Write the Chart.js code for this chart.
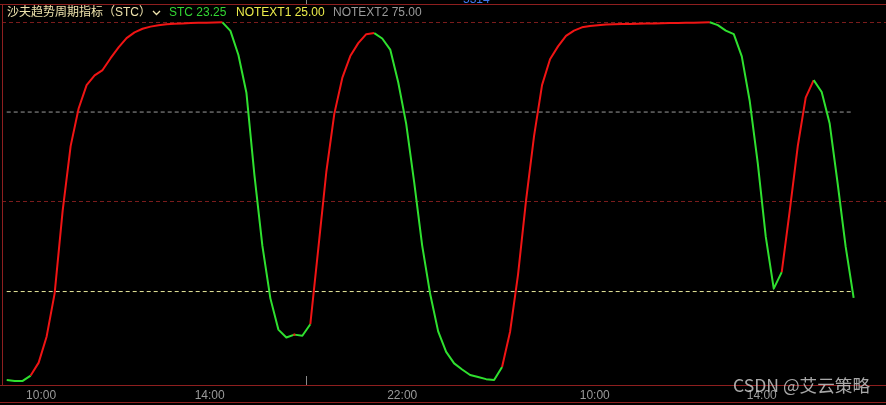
<!DOCTYPE html>
<html><head><meta charset="utf-8">
<script src="https://cdn.jsdelivr.net/npm/chart.js@4.4.0/dist/chart.umd.min.js"></script>
<style>html,body{margin:0;padding:0;background:#000;overflow:hidden}canvas{display:block}</style>
</head><body>
<canvas id="c" width="886" height="405"></canvas>
<script>
// ---- data ----
const stc = [
  0.35, 0.1, 0.1, 1.6, 5.2, 12.5, 24.5, 47.5, 65.5, 76,
  82.5, 85.2, 86.7, 90, 93, 95.6, 97.2, 98.2, 98.8, 99.2,
  99.45, 99.6, 99.7, 99.8, 99.85, 99.9, 99.95, 100, 97.6, 90.9,
  80.4, 57.5, 37.7, 23.1, 14.4, 12.2, 13.0, 12.7, 15.9, 37,
  58.3, 74.5, 84.5, 90.6, 94.2, 96.7, 97.0, 95.5, 92.4, 83.3,
  71.7, 55.4, 37.8, 24.3, 13.9, 8.2, 5.0, 3.3, 1.75, 1.2,
  0.6, 0.35, 4.0, 13.8, 29.8, 50.4, 68.3, 82.5, 89.7, 93.3,
  96.2, 97.7, 98.6, 99.0, 99.2, 99.4, 99.45, 99.5, 99.55, 99.6,
  99.65, 99.7, 99.74, 99.78, 99.82, 99.86, 99.9, 99.95, 100, 99.2,
  97.7, 96.7, 90.5, 78, 60.8, 40.3, 25.8, 30.4, 47.5, 65.4,
  79.0, 83.9, 80.6, 71.8, 55.1, 37.5, 23.25
];
const notext1 = 25;
const notext2 = 75;
const tickPositions = [4.3, 25.4, 49.5, 73.6, 94.5];
const tickLabels = ['10:00', '14:00', '22:00', '10:00', '14:00'];
const gridLevels = [50, 100];
const daySeparator = 37.5;
const titleText = '沙夫趋势周期指标（STC）';
const watermarkText = 'CSDN @艾云策略';
const topClipText = '5314';

// ---- styles ----
const RED = '#f01414';
const GREEN = '#2fe02f';
const FRAME = '#8e1f1f';
const GRIDRED = '#7a1c1c';
const FONT = "'Liberation Sans', Arial, 'Noto Sans CJK SC', sans-serif";

const rising = i => i > 0 && stc[i] > stc[i - 1];
const lastIdx = stc.length - 1;

const decor = {
  id: 'decor',
  beforeDraw(chart) {
    const c = chart.ctx;
    c.save();
    c.fillStyle = '#000';
    c.fillRect(0, 0, chart.width, chart.height);
    c.restore();
  },
  afterDraw(chart) {
    const c = chart.ctx, a = chart.chartArea, xs = chart.scales.x;
    c.save();
    // frame
    c.strokeStyle = FRAME; c.lineWidth = 1;
    c.beginPath();
    c.moveTo(0, a.top + 0.5); c.lineTo(chart.width, a.top + 0.5);
    c.moveTo(a.left + 0.5, a.top); c.lineTo(a.left + 0.5, a.bottom);
    c.moveTo(0, a.bottom + 0.5); c.lineTo(chart.width, a.bottom + 0.5);
    c.moveTo(0, chart.height - 2.5); c.lineTo(chart.width, chart.height - 2.5);
    c.stroke();
    // day separator ticks
    const sx = Math.round(xs.getPixelForValue(daySeparator)) + 0.5;
    c.strokeStyle = '#8a8a8a';
    c.beginPath();
    c.moveTo(sx, 0); c.lineTo(sx, a.top);
    c.moveTo(sx, a.bottom - 9); c.lineTo(sx, a.bottom);
    c.stroke();
    // clipped text from panel above
    c.font = '12px ' + FONT;
    c.fillStyle = '#3f78ee';
    c.textBaseline = 'alphabetic';
    c.fillText(topClipText, 463, 3);
    // legend line
    c.textBaseline = 'middle';
    const ly = 13;
    c.fillStyle = '#efe3ad';
    c.fillText(titleText, 7, ly);
    c.strokeStyle = '#efe3ad'; c.lineWidth = 1.3;
    c.beginPath(); c.moveTo(153, 11); c.lineTo(156.5, 14.5); c.lineTo(160, 11); c.stroke();
    c.fillStyle = '#33d633';
    c.fillText('STC ' + stc[lastIdx].toFixed(2), 169, ly);
    c.fillStyle = '#ecec4a';
    c.fillText('NOTEXT1 ' + notext1.toFixed(2), 236, ly);
    c.fillStyle = '#9a9a9a';
    c.fillText('NOTEXT2 ' + notext2.toFixed(2), 333, ly);
    // watermark
    c.font = "17.6px 'Noto Sans CJK SC', sans-serif";
    c.fillStyle = 'rgba(205,205,205,0.82)';
    c.textAlign = 'right';
    c.fillText(watermarkText, 870, 385);
    c.restore();
  }
};

new Chart(document.getElementById('c'), {
  type: 'line',
  data: {
    datasets: [
      {
        label: 'STC',
        data: stc.map((v, i) => ({ x: i, y: v })),
        borderWidth: 2,
        borderColor: GREEN,
        tension: 0,
        borderJoinStyle: 'round',
        pointRadius: ctx => (rising(ctx.dataIndex) && !rising(ctx.dataIndex - 1) && !rising(ctx.dataIndex + 1)) ? 1.2 : 0,
        pointBorderWidth: 0,
        pointBackgroundColor: RED,
        segment: {
          borderColor: ctx => (rising(ctx.p0DataIndex) && rising(ctx.p1DataIndex)) ? RED : GREEN
        },
        order: 0
      },
      {
        label: 'NOTEXT1',
        data: [{ x: 0, y: notext1 }, { x: lastIdx, y: notext1 }],
        borderColor: '#e8e89c', borderWidth: 1, borderDash: [4, 3], pointRadius: 0, order: 1
      },
      {
        label: 'NOTEXT2',
        data: [{ x: 0, y: notext2 }, { x: lastIdx, y: notext2 }],
        borderColor: '#9c9c9c', borderWidth: 1, borderDash: [4, 3], pointRadius: 0, order: 1
      }
    ]
  },
  options: {
    responsive: false,
    animation: false,
    devicePixelRatio: 1,
    layout: { padding: { left: 2, right: 0, top: 4, bottom: 0 } },
    plugins: { legend: { display: false }, tooltip: { enabled: false } },
    scales: {
      x: {
        type: 'linear',
        min: -0.59,
        max: 110.05,
        grid: { display: false, drawTicks: false },
        border: { display: false },
        afterBuildTicks: s => { s.ticks = tickPositions.map(v => ({ value: v })); },
        afterFit: s => { s.height = 20; },
        ticks: {
          autoSkip: false, maxRotation: 0, padding: 3,
          color: '#9a9a9a',
          font: { family: FONT, size: 12 },
          callback: (v, i) => tickLabels[i]
        }
      },
      y: {
        min: -1.03,
        max: 105.1,
        afterBuildTicks: s => { s.ticks = gridLevels.map(v => ({ value: v })); },
        afterFit: s => { s.width = 0; },
        ticks: { display: false },
        grid: { color: GRIDRED, lineWidth: 1, drawTicks: false },
        border: { display: false, dash: [4, 3] }
      }
    }
  },
  plugins: [decor]
});
</script>
</body></html>
